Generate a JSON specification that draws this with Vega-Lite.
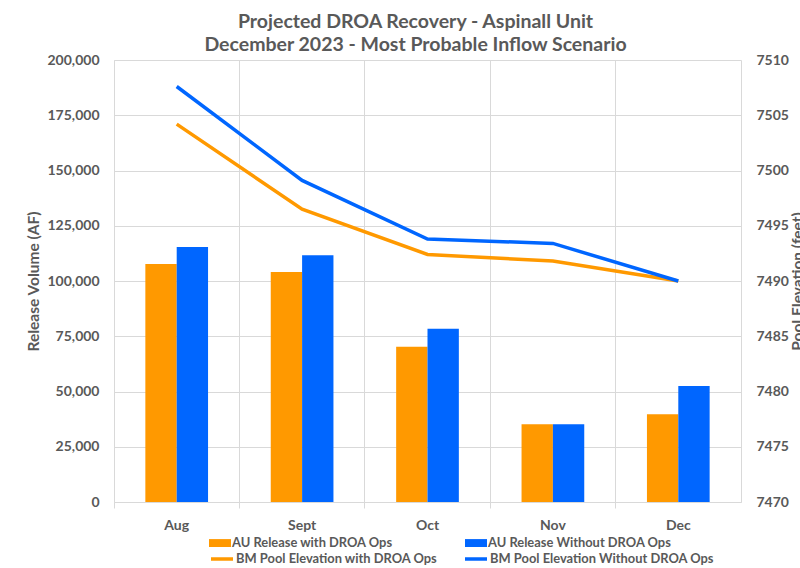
{
  "$schema": "https://vega.github.io/schema/vega-lite/v6.json",
  "width": 627,
  "height": 442,
  "autosize": {"type": "none"},
  "padding": {"left": 114, "top": 60, "right": 59, "bottom": 66},
  "background": "white",
  "title": {
    "text": ["Projected DROA Recovery - Aspinall Unit", "December 2023 - Most Probable Inflow Scenario"],
    "font": "Lato",
    "fontSize": 19.5,
    "fontWeight": "bold",
    "color": "#595959",
    "anchor": "middle",
    "offset": -2,
    "dx": -12,
    "lineHeight": 23
  },
  "config": {
    "view": {"stroke": null},
    "font": "Lato",
    "axis": {
      "labelFont": "Lato",
      "labelFontSize": 14,
      "labelFontWeight": "bold",
      "labelColor": "#595959",
      "titleFont": "Lato",
      "titleFontSize": 15.5,
      "titleFontWeight": "bold",
      "titleColor": "#595959",
      "gridColor": "#D9D9D9",
      "domainColor": "#D9D9D9",
      "tickColor": "#D9D9D9"
    },
    "legend": {
      "labelFont": "Lato",
      "labelFontSize": 12.9,
      "labelFontWeight": "bold",
      "labelColor": "#595959",
      "labelLimit": 400
    }
  },
  "datasets": {
    "release": [
      {"month": "Aug", "series": "AU Release with DROA Ops", "volume": 107700},
      {"month": "Aug", "series": "AU Release Without DROA Ops", "volume": 115400},
      {"month": "Sept", "series": "AU Release with DROA Ops", "volume": 104100},
      {"month": "Sept", "series": "AU Release Without DROA Ops", "volume": 111600},
      {"month": "Oct", "series": "AU Release with DROA Ops", "volume": 70300},
      {"month": "Oct", "series": "AU Release Without DROA Ops", "volume": 78400},
      {"month": "Nov", "series": "AU Release with DROA Ops", "volume": 35200},
      {"month": "Nov", "series": "AU Release Without DROA Ops", "volume": 35200},
      {"month": "Dec", "series": "AU Release with DROA Ops", "volume": 39700},
      {"month": "Dec", "series": "AU Release Without DROA Ops", "volume": 52500}
    ],
    "elevation": [
      {"month": "Aug", "series": "BM Pool Elevation with DROA Ops", "elevation": 7504.2},
      {"month": "Sept", "series": "BM Pool Elevation with DROA Ops", "elevation": 7496.5},
      {"month": "Oct", "series": "BM Pool Elevation with DROA Ops", "elevation": 7492.4},
      {"month": "Nov", "series": "BM Pool Elevation with DROA Ops", "elevation": 7491.8},
      {"month": "Dec", "series": "BM Pool Elevation with DROA Ops", "elevation": 7490.0},
      {"month": "Aug", "series": "BM Pool Elevation Without DROA Ops", "elevation": 7507.6},
      {"month": "Sept", "series": "BM Pool Elevation Without DROA Ops", "elevation": 7499.1},
      {"month": "Oct", "series": "BM Pool Elevation Without DROA Ops", "elevation": 7493.8},
      {"month": "Nov", "series": "BM Pool Elevation Without DROA Ops", "elevation": 7493.4},
      {"month": "Dec", "series": "BM Pool Elevation Without DROA Ops", "elevation": 7490.0}
    ]
  },
  "layer": [
    {
      "data": {"name": "release"},
      "mark": {"type": "bar"},
      "encoding": {
        "x": {
          "field": "month",
          "type": "nominal",
          "sort": ["Aug", "Sept", "Oct", "Nov", "Dec"],
          "scale": {"paddingInner": 0, "paddingOuter": 0},
          "axis": {
            "title": null,
            "labelAngle": 0,
            "grid": true,
            "bandPosition": 0,
            "ticks": true,
            "tickSize": 6,
            "labelPadding": 10,
            "domain": true
          }
        },
        "xOffset": {
          "field": "series",
          "sort": ["AU Release with DROA Ops", "AU Release Without DROA Ops"],
          "scale": {"paddingInner": 0, "paddingOuter": 1}
        },
        "y": {
          "field": "volume",
          "type": "quantitative",
          "scale": {"domain": [0, 200000]},
          "axis": {
            "title": "Release Volume (AF)",
            "values": [0, 25000, 50000, 75000, 100000, 125000, 150000, 175000, 200000],
            "format": ",.0f",
            "grid": true,
            "ticks": false,
            "domain": true,
            "labelPadding": 15,
            "titlePadding": 6
          }
        },
        "fill": {
          "field": "series",
          "type": "nominal",
          "scale": {
            "domain": ["AU Release with DROA Ops", "AU Release Without DROA Ops"],
            "range": ["#FF9900", "#0066FF"]
          },
          "legend": {
            "title": null,
            "orient": "none",
            "legendX": 95,
            "legendY": 472,
            "direction": "horizontal",
            "columns": 2,
            "columnPadding": 72,
            "symbolType": "M-1,-0.36H1V0.36H-1Z",
            "symbolSize": 484,
            "symbolStrokeWidth": 0,
            "labelOffset": 1
          }
        }
      }
    },
    {
      "data": {"name": "elevation"},
      "mark": {"type": "line", "strokeWidth": 3.5},
      "encoding": {
        "x": {
          "field": "month",
          "type": "nominal",
          "sort": ["Aug", "Sept", "Oct", "Nov", "Dec"]
        },
        "y": {
          "field": "elevation",
          "type": "quantitative",
          "scale": {"domain": [7470, 7510]},
          "axis": {
            "orient": "right",
            "title": "Pool Elevation (feet)",
            "titleAngle": 270,
            "values": [7470, 7475, 7480, 7485, 7490, 7495, 7500, 7505, 7510],
            "format": "d",
            "grid": false,
            "ticks": false,
            "domain": true,
            "labelPadding": 15,
            "titlePadding": 17
          }
        },
        "stroke": {
          "field": "series",
          "type": "nominal",
          "scale": {
            "domain": ["BM Pool Elevation with DROA Ops", "BM Pool Elevation Without DROA Ops"],
            "range": ["#FF9900", "#0066FF"]
          },
          "legend": {
            "title": null,
            "orient": "none",
            "legendX": 95,
            "legendY": 486,
            "direction": "horizontal",
            "columns": 2,
            "columnPadding": 20,
            "symbolType": "stroke",
            "symbolSize": 484,
            "symbolStrokeWidth": 3.5,
            "labelOffset": 1
          }
        }
      }
    }
  ],
  "resolve": {"scale": {"y": "independent"}}
}
